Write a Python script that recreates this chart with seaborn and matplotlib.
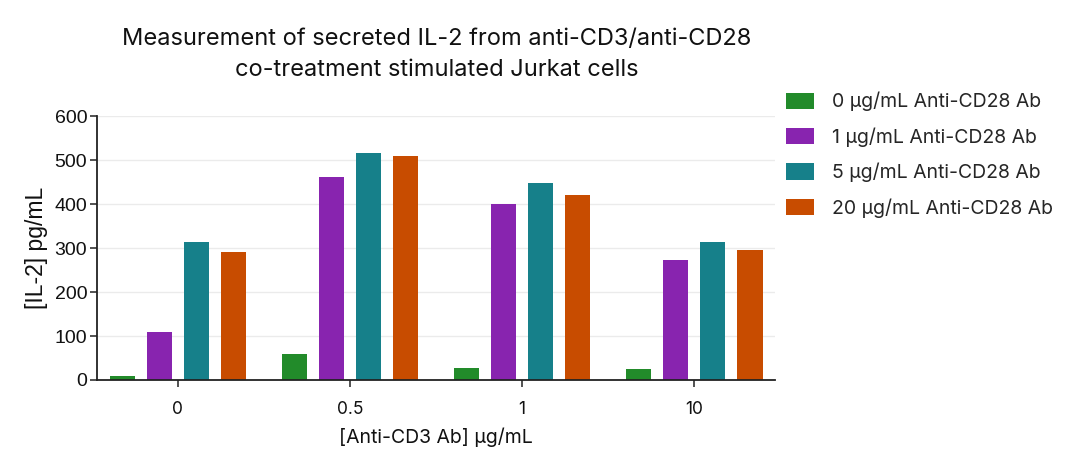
import matplotlib
matplotlib.use("Agg")
import matplotlib.pyplot as plt
import seaborn as sns
import pandas as pd

cd3_doses = ["0", "0.5", "1", "10"]
cd28_groups = ["0 µg/mL Anti-CD28 Ab", "1 µg/mL Anti-CD28 Ab",
               "5 µg/mL Anti-CD28 Ab", "20 µg/mL Anti-CD28 Ab"]
il2_cd28_0 = [8, 59, 28, 25]
il2_cd28_1 = [109, 462, 401, 273]
il2_cd28_5 = [314, 517, 447, 314]
il2_cd28_20 = [292, 509, 420, 295]
colors = ["#228B2A", "#8824AF", "#16808A", "#C84C00"]

rows = []
for grp, vals in zip(cd28_groups, [il2_cd28_0, il2_cd28_1, il2_cd28_5, il2_cd28_20]):
    for dose, v in zip(cd3_doses, vals):
        rows.append({"cd3": dose, "cd28": grp, "il2": v})
df = pd.DataFrame(rows)

sns.set_style("white")
plt.rcParams['font.family'] = ['Inter', 'DejaVu Sans']

fig = plt.figure(figsize=(10.8, 4.7), dpi=100)
ax = fig.add_axes([0.0898, 0.1915, 0.628, 0.5615])

sns.barplot(data=df, x="cd3", y="il2", hue="cd28", order=cd3_doses,
            hue_order=cd28_groups, palette=colors, width=0.862, gap=0.32,
            linewidth=0, saturation=1, ax=ax, errorbar=None)

ax.set_xlim(-0.47, 3.47)
ax.set_ylim(0, 600)
ax.set_yticks([0, 100, 200, 300, 400, 500, 600])
ax.yaxis.grid(True, color="#ebebeb", linewidth=1)
ax.set_axisbelow(True)
for s in ["top", "right"]:
    ax.spines[s].set_visible(False)
for s in ["left", "bottom"]:
    ax.spines[s].set_color("#222222")
    ax.spines[s].set_linewidth(1.3)
ax.tick_params(axis="both", which="both", direction="out", length=5, width=1.1,
               color="#222222", left=True, bottom=True)
for lab in ax.get_yticklabels():
    lab.set_fontfamily("Liberation Sans")
    lab.set_fontsize(14)
    lab.set_color("#111111")
for lab in ax.get_xticklabels():
    lab.set_fontsize(12.5)
    lab.set_color("#111111")
ax.tick_params(axis="x", pad=10)
ax.tick_params(axis="y", pad=2)

ax.set_xlabel("[Anti-CD3 Ab] µg/mL", fontsize=14, color="#111111", labelpad=7)
ax.set_ylabel("[IL-2] pg/mL", fontsize=16.5, color="#111111",
              fontfamily="Liberation Sans", labelpad=5)

fig.suptitle("Measurement of secreted IL-2 from anti-CD3/anti-CD28\nco-treatment stimulated Jurkat cells",
             x=0.404, y=0.94, fontsize=17, color="#111111", linespacing=1.5)

handles, labels = ax.get_legend_handles_labels()
ax.legend_.remove()
fig.legend(handles, labels, loc="upper left", bbox_to_anchor=(0.7206, 0.821),
           frameon=False, fontsize=14, handlelength=1.42, handleheight=0.91,
           labelspacing=0.82, handletextpad=0.95, borderaxespad=0)

fig.savefig("out.png", dpi=100)
